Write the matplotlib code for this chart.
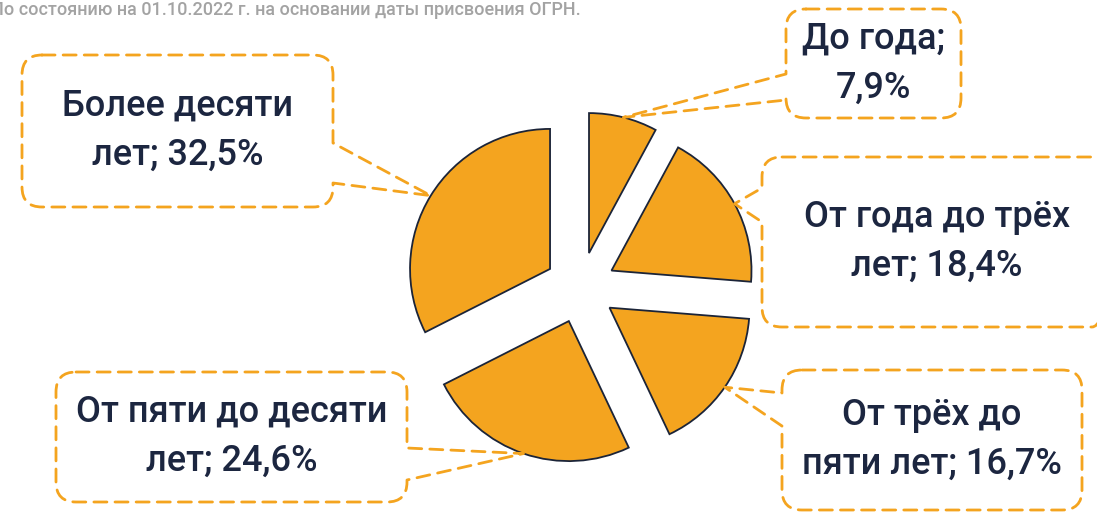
import numpy as np
import matplotlib.pyplot as plt
from matplotlib.path import Path
from matplotlib.patches import PathPatch

# ── Data ─────────────────────────────────────────────────────────────────────
categories = ["До года", "От года до трёх\nлет", "От трёх до\nпяти лет",
              "От пяти до десяти\nлет", "Более десяти\nлет"]
shares = [7.9, 18.4, 16.7, 24.6, 32.5]
label_breaks = ["\n", " ", " ", " ", " "]
note = "По состоянию на 01.10.2022 г. на основании даты присвоения ОГРН."

# ── Style ────────────────────────────────────────────────────────────────────
W, H = 1097, 513
ORANGE = "#F4A41F"
EDGE = "#1B2438"
TEXT = "#1C2640"
GREY = "#A3A3A3"

plt.rcParams["font.family"] = ["Roboto", "DejaVu Sans"]

# callout boxes in pixel coords (left, top, right, bottom), pointer side, gap on edge
boxes = [
    ((786, 9, 961, 118), "left", (74, 100)),
    ((762, 157, 1112, 327), "left", (188, 222)),
    ((782, 370, 1082, 510), "left", (393, 426)),
    ((56, 372, 407, 502), "right", (448, 480)),
    ((22, 55, 333, 207), "right", (143, 183)),
]


def callout_path(box, side, gap, tip, r=20):
    l, t, rr, b = box
    p1, p2 = gap
    verts, codes = [], []

    def move(p):
        verts.append(p); codes.append(Path.MOVETO)

    def line(p):
        verts.append(p); codes.append(Path.LINETO)

    def corner(c, p):
        verts.extend([c, p]); codes.extend([Path.CURVE3, Path.CURVE3])

    move((l + r, t)); line((rr - r, t)); corner((rr, t), (rr, t + r))
    if side == "right":
        line((rr, p1)); line(tip); line((rr, p2))
    line((rr, b - r)); corner((rr, b), (rr - r, b))
    line((l + r, b)); corner((l, b), (l, b - r))
    if side == "left":
        line((l, p2)); line(tip); line((l, p1))
    line((l, t + r)); corner((l, t), (l + r, t))
    return Path([(x, H - y) for x, y in verts], codes)


fig = plt.figure(figsize=(W / 100, H / 100), dpi=100)
ax = fig.add_axes([0, 0, 1, 1])

wedges, _ = ax.pie(shares, startangle=90, counterclock=False,
                   center=(580.3, H - 287.5), radius=140,
                   explode=[35.5] * len(shares), colors=[ORANGE] * len(shares),
                   wedgeprops=dict(edgecolor=EDGE, linewidth=1.3))

ax.set_xlim(0, W)
ax.set_ylim(0, H)
ax.set_aspect("equal")
ax.axis("off")

for w, name, brk, val, (box, side, gap) in zip(wedges, categories, label_breaks, shares, boxes):
    ang = np.deg2rad((w.theta1 + w.theta2) / 2)
    cx, cy = w.center
    tip = (cx + w.r * np.cos(ang), H - (cy + w.r * np.sin(ang)))
    patch = PathPatch(callout_path(box, side, gap, tip), facecolor="none",
                      edgecolor=ORANGE, linewidth=2, linestyle=(0, (4.7, 2.9)),
                      capstyle="round", joinstyle="round", zorder=3)
    ax.add_patch(patch)
    label = f"{name};{brk}{val:.1f}%".replace(".", ",")
    bx = (box[0] + box[2]) / 2
    by = (box[1] + box[3]) / 2
    ax.text(bx, H - by, label, ha="center", va="center", fontsize=26,
            fontweight="medium", color=TEXT, linespacing=1.53, zorder=4)

ax.text(-9, H - 15, note, ha="left", va="baseline", fontsize=13,
        fontweight="medium", color=GREY)

fig.savefig("out.png", dpi=100)
